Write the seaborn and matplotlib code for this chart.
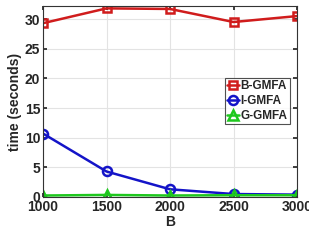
import matplotlib
matplotlib.use("Agg")
import matplotlib.pyplot as plt
import seaborn as sns
import pandas as pd

B = [1000, 1500, 2000, 2500, 3000]
b_gmfa = [29.3, 31.8, 31.7, 29.5, 30.5]
i_gmfa = [10.7, 4.3, 1.3, 0.5, 0.4]
g_gmfa = [0.25, 0.35, 0.25, 0.3, 0.3]

sns.set_theme(style="whitegrid")
plt.rcParams['font.family'] = ['Liberation Sans', 'DejaVu Sans']
plt.rcParams['font.weight'] = 'bold'

df = pd.DataFrame({
    "B": B * 3,
    "time": b_gmfa + i_gmfa + g_gmfa,
    "method": ["B-GMFA"] * 5 + ["I-GMFA"] * 5 + ["G-GMFA"] * 5,
})

fig = plt.figure(figsize=(3.09, 2.40), dpi=100)
ax = fig.add_axes([43/309, 1 - 197/240, (297-43)/309, (197-6)/240])

colors = {"B-GMFA": "#d01c1c", "I-GMFA": "#1414c8", "G-GMFA": "#1ec81e"}
markers = {"B-GMFA": "s", "I-GMFA": "o", "G-GMFA": "^"}
msizes = {"B-GMFA": 5.5, "I-GMFA": 6.5, "G-GMFA": 7}
for m in ["B-GMFA", "I-GMFA", "G-GMFA"]:
    sub = df[df.method == m]
    sns.lineplot(data=sub, x="B", y="time", ax=ax, color=colors[m], marker=markers[m],
                 markersize=msizes[m], markerfacecolor="none", markeredgecolor=colors[m],
                 markeredgewidth=1.8, linewidth=1.8, label=m)

ax.set_xlim(1000, 3000)
ax.set_ylim(0, 32.2)
ax.set_xticks(B)
ax.set_yticks([0, 5, 10, 15, 20, 25, 30])
ax.set_facecolor("white")
ax.grid(True, color="#e3e3e3", linewidth=0.8)
for s in ax.spines.values():
    s.set_visible(True)
    s.set_color("#333333")
    s.set_linewidth(0.8)
ax.tick_params(axis="both", direction="in", length=3, labelsize=10, colors="#262626",
               pad=2, top=True, right=True, bottom=True, left=True)
for lab in ax.get_xticklabels() + ax.get_yticklabels():
    lab.set_fontweight("bold")
ax.set_xlabel("B", fontsize=10, fontweight="bold", color="#262626", labelpad=1)
ax.set_ylabel("time (seconds)", fontsize=10, fontweight="bold", color="#262626", labelpad=2)

leg = ax.legend(loc="upper left", bbox_to_anchor=(0.715, 0.625), fontsize=8.5,
                frameon=True, fancybox=False, edgecolor="#262626", borderpad=0.2,
                handlelength=1.0, handletextpad=0.15, labelspacing=0.25, borderaxespad=0)
leg.get_frame().set_linewidth(0.8)
for t in leg.get_texts():
    t.set_fontweight("bold")

fig.savefig("out.png", dpi=100)
